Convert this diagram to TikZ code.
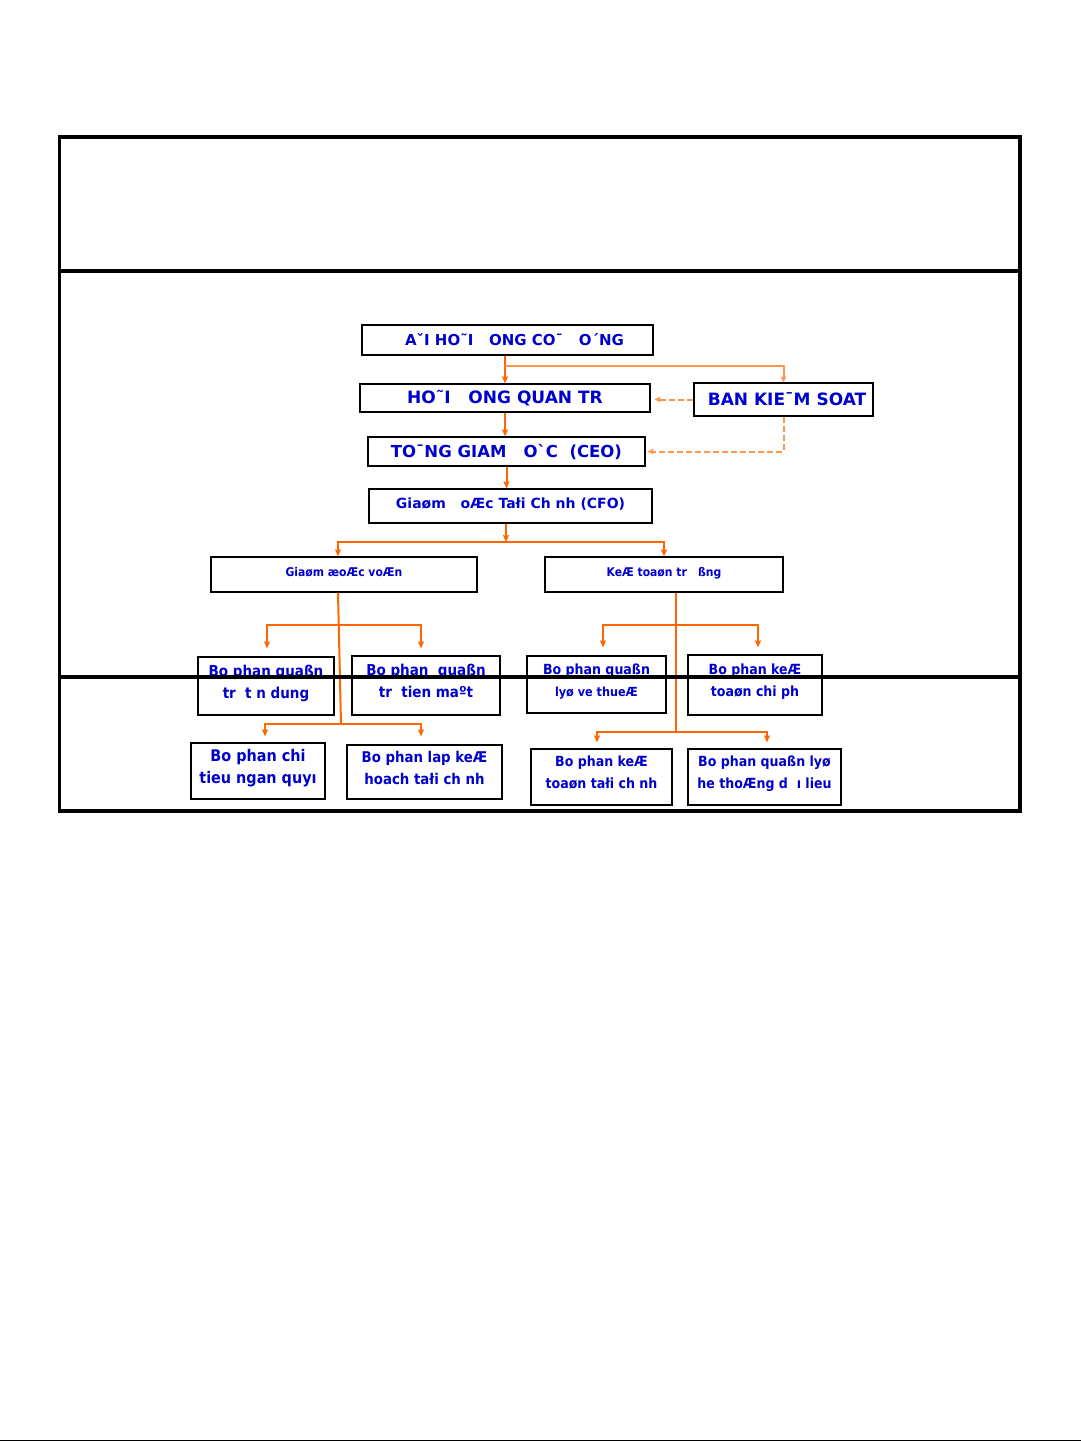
\documentclass[tikz,border=0pt]{standalone}
\usepackage{fontspec}
\setmainfont{DejaVu Sans}
\newfontfamily\condfont{DejaVu Sans Condensed}
\usetikzlibrary{arrows.meta,calc}
\definecolor{txtblue}{RGB}{0,0,204}
\definecolor{orgA}{RGB}{255,102,0}
\definecolor{orgB}{RGB}{255,150,80}

\begin{document}
\begin{tikzpicture}[x=1pt,y=-1pt,
    box/.style={draw,line width=1.2pt,inner sep=0pt,align=center,text=txtblue},
    head/.style={font=\bfseries\fontsize{#1}{20}\selectfont},
    slim/.style={font=\condfont\bfseries\fontsize{12}{16}\selectfont,text depth=6pt},
    unit/.style={font=\condfont\bfseries\fontsize{#1}{22}\selectfont,text depth=9pt},
    unit/.default=14,
    link/.style={draw=orgA,line width=2pt,-{Stealth[length=7pt,width=6pt,inset=1pt]}},
    plain/.style={draw=orgA,line width=2pt},
    ctrl/.style={draw=orgB,line width=2pt,-{Stealth[length=6pt,width=5.5pt,inset=1pt]}},
    ctrldash/.style={ctrl,dash pattern=on 6pt off 3pt},
    frame/.style={line width=3.5pt}]
            \useasboundingbox (0,0) rectangle (1081,1441);

            % top levels
            \node[box,head=15,minimum width=291pt,minimum height=30pt] (dhcd) at (507.5,340) {\hspace*{14pt}AˇI HO˜I~~~ONG CO¯~~~O´NG};
            \node[box,head=17,minimum width=290pt,minimum height=28pt] (hdqt) at (505,398) {HO˜I~~~ONG QUAN TR};
            \node[box,head=17,minimum width=179pt,minimum height=33pt] (bks) at (783.5,399.5) {\hspace*{7pt}BAN KIE¯M SOAT};
            \node[box,head=16.5,minimum width=277pt,minimum height=29pt] (ceo) at (506.5,451.5) {TO¯NG GIAM~~~OˋC~~(CEO)};
            \node[box,head=14,text depth=6pt,minimum width=283pt,minimum height=34pt] (cfo) at (510.5,506) {Giaøm~~~oÆc Tałi Ch~nh (CFO)};
            \node[box,slim,minimum width=266pt,minimum height=35pt] (gdv) at (344,574.5) {Giaøm æoÆc voÆn};
            \node[box,slim,minimum width=238pt,minimum height=35pt] (ktt) at (664,574.5) {KeÆ toaøn tr~~~ßng};

            % units
            \node[box,unit=15,minimum width=136pt,minimum height=58pt] (l1) at (266,686) {Bo phan quaßn\\tr~~t n dung};
            \node[box,unit=15,minimum width=148pt,minimum height=59pt] (l2) at (426,685.5) {Bo phan~~quaßn\\tr~~tien maºt};
            \node[box,unit=16,minimum width=134pt,minimum height=56pt] (l3) at (258,771) {Bo phan chi\\tieu ngan quyı};
            \node[box,unit=14.8,minimum width=155pt,minimum height=54pt] (l4) at (424.5,772) {Bo phan lap keÆ\\hoach tałi ch nh};
            \node[box,unit,minimum width=139pt,minimum height=57pt] (r1) at (596.5,684.5) {Bo phan quaßn\\{\fontsize{12.5}{22}\selectfont lyø ve thueÆ}};
            \node[box,unit,minimum width=134pt,minimum height=60pt] (r2) at (755,685) {Bo phan keÆ\\toaøn chi ph};
            \node[box,unit,minimum width=141pt,minimum height=56pt] (r3) at (601.5,777) {Bo phan keÆ\\toaøn tałi ch nh};
            \node[box,unit,minimum width=153pt,minimum height=56pt] (r4) at (764.5,777) {Bo phan quaßn lyø\\he thoÆng d~~ı lieu};

            % links
            \coordinate (jA) at (505,366);
            \coordinate (jB) at (506,542);
            \draw[link] (hdqt.north |- dhcd.south) -- (hdqt.north);
            \draw[ctrl] (jA) -| (bks.north);
            \draw[ctrldash,shorten >=4pt] (bks.west) -- (bks.west -| hdqt.east);
            \draw[ctrldash,shorten >=2pt] (bks.south) |- (ceo.east);
            \draw[link] (hdqt.south) -- (hdqt.south |- ceo.north);
            \draw[link] (ceo.south) -- (ceo.south |- cfo.north);
            \draw[link] (cfo.south -| jB) -- (jB);
            \draw[link] (jB) -| ([xshift=-6pt]gdv.north);
            \draw[link] (jB) -| (ktt.north);

            \coordinate (jC) at (339,625);
            \coordinate (jD) at (341,724);
            \draw[plain] ([xshift=-6pt]gdv.south) -- (jD);
            \draw[link,shorten >=8pt] (jC) -| ([xshift=1pt]l1.north);
            \draw[link,shorten >=7pt] (jC) -| ([xshift=-5pt]l2.north);
            \draw[link,shorten >=6pt] (jD) -| ([xshift=7pt]l3.north);
            \draw[link,shorten >=8pt] (jD) -| ([xshift=-3.5pt]l4.north);

            \coordinate (jE) at (676,625);
            \coordinate (jF) at (676,732);
            \draw[plain] ([xshift=12pt]ktt.south) -- (jF);
            \draw[link,shorten >=8pt] (jE) -| ([xshift=6.5pt]r1.north);
            \draw[link,shorten >=7pt] (jE) -| ([xshift=3pt]r2.north);
            \draw[link,shorten >=6pt] (jF) -| ([xshift=-4.5pt]r3.north);
            \draw[link,shorten >=6pt] (jF) -| ([xshift=2.5pt]r4.north);

            % frame
            \draw[frame] (59.5,137) rectangle (1020,811);
            \draw[frame] (59.5,271) -- (1020,271);
            \draw[frame] (59.5,677) -- (1020,677);
            \draw[line width=1pt] (0,1440) -- (1081,1440);
        \end{tikzpicture}
\end{document}
